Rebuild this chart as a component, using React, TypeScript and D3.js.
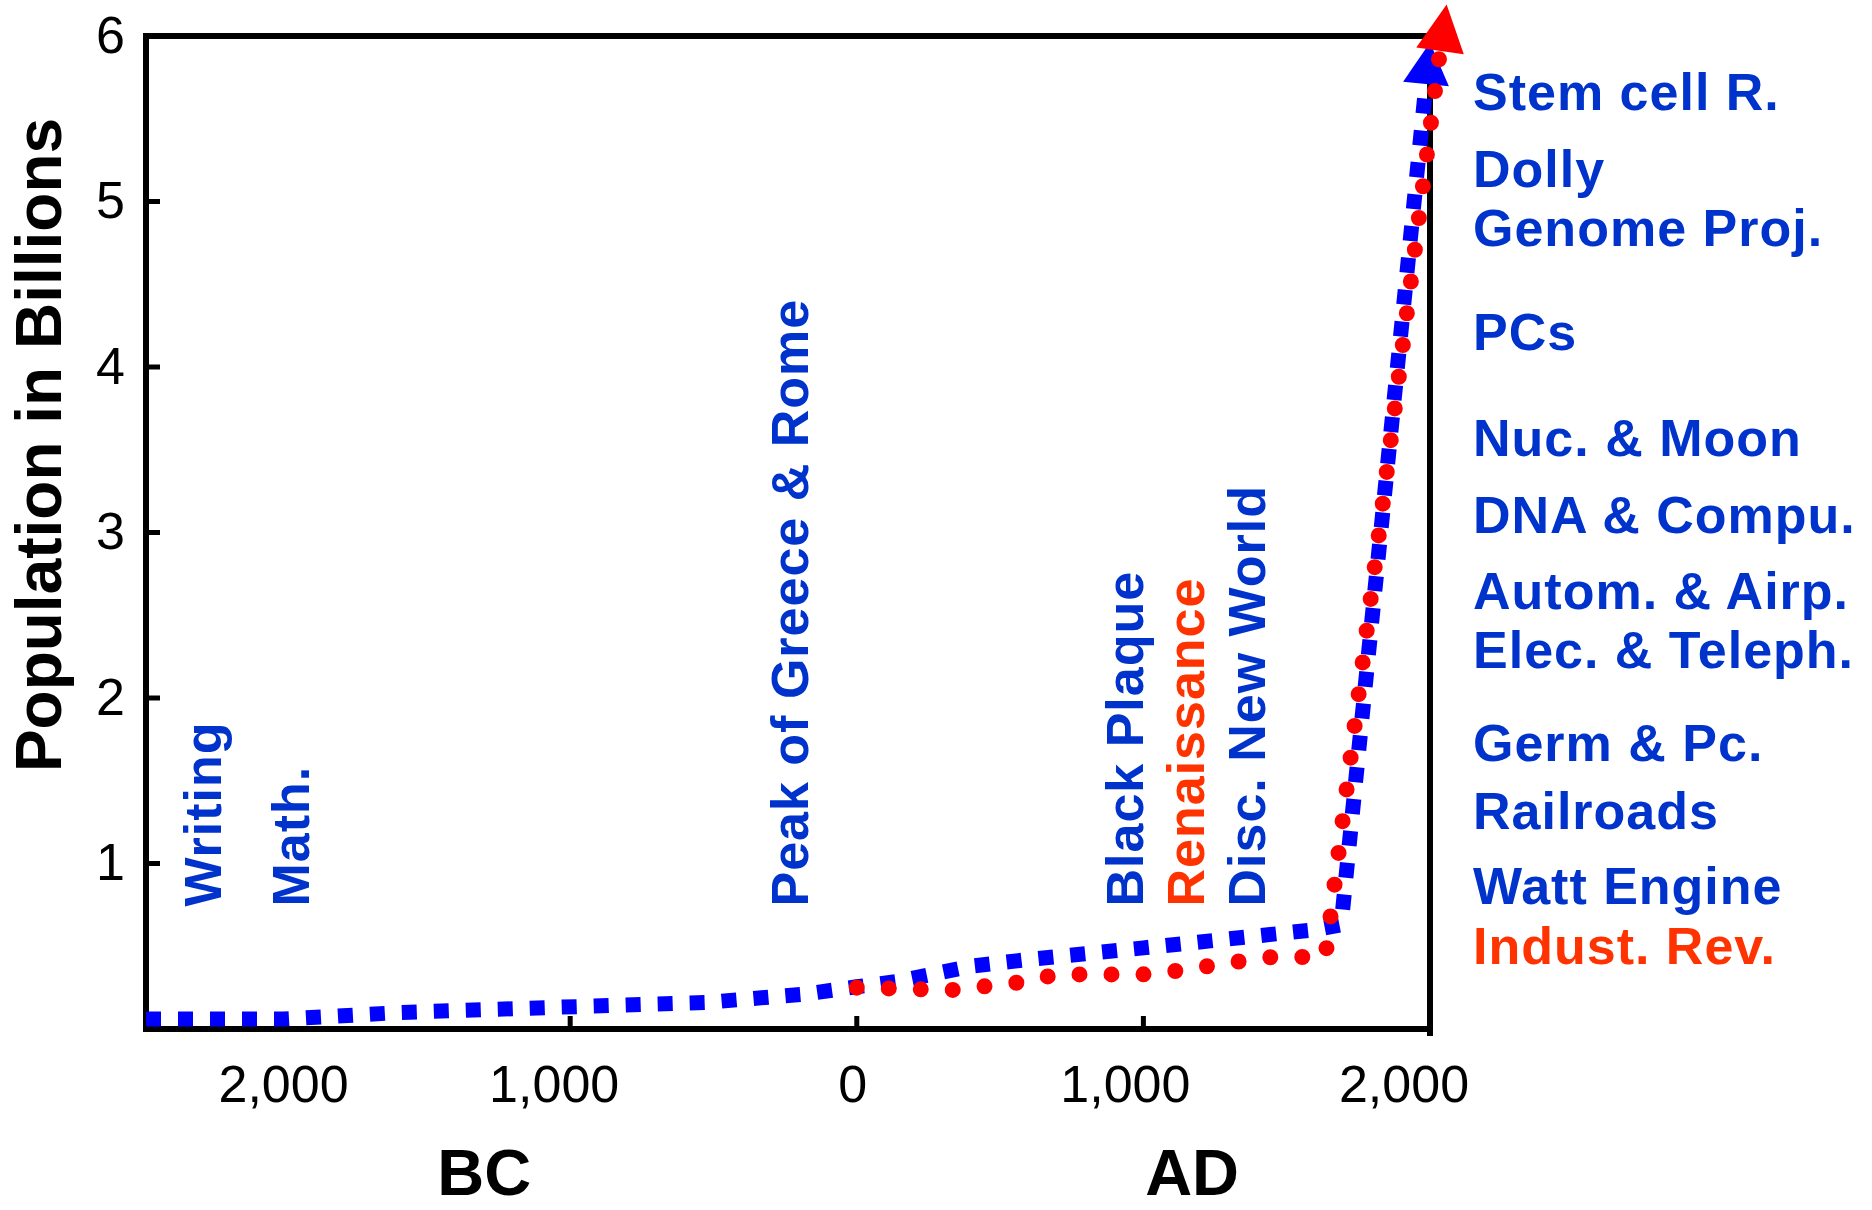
import React from 'react';
import * as d3 from 'd3';

// ---- data ----
const yearTicks = [-2000, -1000, 0, 1000];
const yearTickLabelYears = [-2000, -1000, 0, 1000, 2000];
const yearTickLabels = ['2,000', '1,000', '0', '1,000', '2,000'];
const popTicks = [1, 2, 3, 4, 5];
const popTickLabelValues = [1, 2, 3, 4, 5, 6];
const popTickLabels = ['1', '2', '3', '4', '5', '6'];

const blueYears = [-2480, -2000, -1590, -1070, -530, -185, 0, 150, 400, 600, 1000, 1300, 1600, 1690, 1986];
const blueValues = [0.06, 0.06, 0.1, 0.13, 0.16, 0.21, 0.255, 0.29, 0.38, 0.42, 0.49, 0.545, 0.6, 0.63, 5.71];
const blueArrowTip = [2000, 5.96];

const redYears = [0, 330, 560, 700, 1000, 1110, 1340, 1450, 1635, 2035];
const redValues = [0.25, 0.235, 0.28, 0.33, 0.33, 0.35, 0.41, 0.435, 0.435, 5.91];
const redArrowTip = [2058, 6.19];

const eventLabels = ['Writing', 'Math.', 'Peak of Greece & Rome', 'Black Plaque', 'Renaissance', 'Disc. New World'];
const eventYears = [-2220, -1910, -170, 1000, 1210, 1425];
const eventColors = ['blue', 'blue', 'blue', 'blue', 'red', 'blue'];

const sideLabels = ['Stem cell R.', 'Dolly', 'Genome Proj.', 'PCs', 'Nuc. & Moon', 'DNA & Compu.', 'Autom. & Airp.', 'Elec. & Teleph.', 'Germ & Pc.', 'Railroads', 'Watt Engine', 'Indust. Rev.'];
const sideValues = [5.55, 5.09, 4.73, 4.1, 3.46, 3.0, 2.54, 2.18, 1.62, 1.21, 0.755, 0.39];
const sideColors = ['blue', 'blue', 'blue', 'blue', 'blue', 'blue', 'blue', 'blue', 'blue', 'blue', 'blue', 'red'];

const eraLabels = ['BC', 'AD'];
const eraYears = [-1300, 1170];

const yTitle = 'Population in Billions';

// ---- style ----
const FONT = '"Liberation Sans", Arial, Helvetica, sans-serif';
const TEXT_BLUE = '#0033CC';
const TEXT_RED = '#FF3300';
const LINE_BLUE = '#0000FF';
const LINE_RED = '#FF0000';
const X_LABEL_NUDGE = [0, -16, -4, -18, -26];

function arrowPath(base: [number, number], tip: [number, number], halfW: number) {
  const [bx, by] = base;
  const [tx, ty] = tip;
  const dx = tx - bx;
  const dy = ty - by;
  const len = Math.hypot(dx, dy) || 1;
  const nx = -dy / len;
  const ny = dx / len;
  return `M${tx},${ty}L${bx + nx * halfW},${by + ny * halfW}L${bx - nx * halfW},${by - ny * halfW}Z`;
}

export default function App() {
  const W = 1872;
  const H = 1210;
  const left = 146;
  const right = 1430;
  const top = 36;
  const bottom = 1029;

  const x = d3.scaleLinear().domain([-2480, 2000]).range([left, right]);
  const y = d3.scaleLinear().domain([0, 6]).range([bottom, top]);

  const line = d3
    .line<[number, number]>()
    .x((d) => x(d[0]))
    .y((d) => y(d[1]));

  const bluePts = blueYears.map((yr, i) => [yr, blueValues[i]] as [number, number]);
  const redPts = redYears.map((yr, i) => [yr, redValues[i]] as [number, number]);

  const blueLast = bluePts[bluePts.length - 1];
  const redLast = redPts[redPts.length - 1];
  const blueArrow = arrowPath(
    [x(blueLast[0]), y(blueLast[1])],
    [x(blueArrowTip[0]), y(blueArrowTip[1])],
    23
  );
  const redArrow = arrowPath(
    [x(redLast[0]), y(redLast[1])],
    [x(redArrowTip[0]), y(redArrowTip[1])],
    24
  );

  const annoStyle = {
    fontFamily: FONT,
    fontWeight: 700,
    fontSize: 52,
    letterSpacing: 1,
  } as React.CSSProperties;

  const eventBaseValue = 0.74;

  return (
    <svg
      width={W}
      height={H}
      viewBox={`0 0 ${W} ${H}`}
      style={{ position: 'absolute', left: 0, top: 0, background: '#fff' }}
    >
      <rect x={0} y={0} width={W} height={H} fill="#fff" />

      {/* frame */}
      <g stroke="#000" strokeWidth={6} strokeLinecap="square">
        <line x1={left} y1={top} x2={left} y2={bottom} />
        <line x1={left} y1={top} x2={right} y2={top} />
        <line x1={left} y1={bottom} x2={right} y2={bottom} />
        <line x1={right} y1={top} x2={right} y2={bottom + 4} />
      </g>

      {/* ticks */}
      <g stroke="#000" strokeWidth={5}>
        {popTicks.map((v) => (
          <line key={'yt' + v} x1={left} x2={left + 14} y1={y(v)} y2={y(v)} />
        ))}
        {yearTicks.map((v) => (
          <line key={'xt' + v} x1={x(v)} x2={x(v)} y1={bottom} y2={bottom - 13} />
        ))}
      </g>

      {/* tick labels */}
      <g fontFamily={FONT} fontSize={52} fill="#000">
        {popTickLabelValues.map((v, i) => (
          <text key={'yl' + v} x={left - 21} y={y(v)} dy="0.32em" textAnchor="end">
            {popTickLabels[i]}
          </text>
        ))}
        {yearTickLabelYears.map((v, i) => (
          <text key={'xl' + i} x={x(v) + X_LABEL_NUDGE[i]} y={1102} textAnchor="middle">
            {yearTickLabels[i]}
          </text>
        ))}
      </g>

      {/* era labels */}
      <g fontFamily={FONT} fontSize={65} fontWeight={700} fill="#000">
        {eraLabels.map((t, i) => (
          <text key={t} x={x(eraYears[i])} y={1195} textAnchor="middle">
            {t}
          </text>
        ))}
      </g>

      {/* y title */}
      <text
        transform={`translate(61, 445) rotate(-90)`}
        textAnchor="middle"
        fontFamily={FONT}
        fontSize={64}
        fontWeight={700}
        fill="#000"
      >
        {yTitle}
      </text>

      {/* series */}
      <path
        d={line(bluePts) || ''}
        fill="none"
        stroke={LINE_BLUE}
        strokeWidth={15}
        strokeDasharray="15 17"
        strokeLinecap="butt"
        strokeLinejoin="miter"
      />
      <path d={blueArrow} fill={LINE_BLUE} />
      <path
        d={line(redPts) || ''}
        fill="none"
        stroke={LINE_RED}
        strokeWidth={16}
        strokeDasharray="0 32"
        strokeLinecap="round"
      />
      <path d={redArrow} fill={LINE_RED} />

      {/* event labels (vertical) */}
      {eventLabels.map((t, i) => (
        <text
          key={t}
          transform={`translate(${x(eventYears[i])}, ${y(eventBaseValue)}) rotate(-90)`}
          style={annoStyle}
          fill={eventColors[i] === 'red' ? TEXT_RED : TEXT_BLUE}
        >
          {t}
        </text>
      ))}

      {/* side labels */}
      {sideLabels.map((t, i) => (
        <text
          key={t}
          x={right + 43}
          y={y(sideValues[i])}
          style={annoStyle}
          fill={sideColors[i] === 'red' ? TEXT_RED : TEXT_BLUE}
        >
          {t}
        </text>
      ))}
    </svg>
  );
}
